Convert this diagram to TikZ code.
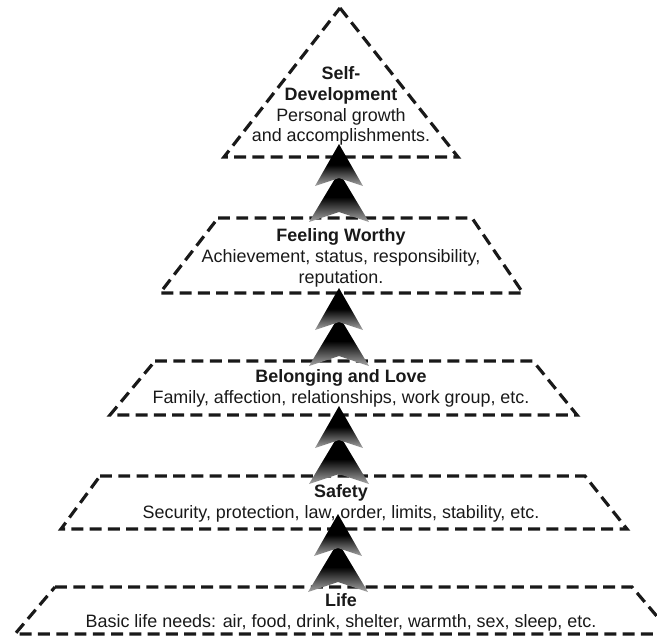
\documentclass[tikz,border=0pt]{standalone}
\usepackage{fontspec}
\setmainfont{Liberation Sans}

\tikzset{
  level/.style={draw=black!90, line width=1.8pt, dash pattern=on 6.8pt off 3.6pt, line join=miter},
  lvltext/.style={align=center, text=black!90, font=\fontsize{10.2}{11.8}\selectfont},
  chev/.style={top color=black, bottom color=black!35, middle color=black}
}

\begin{document}
\begin{tikzpicture}[x=0.02cm, y=-0.02cm]
	\useasboundingbox (0,0) rectangle (657,637);
	\clip (0,0) rectangle (657,637);
	% levels of the pyramid
	\draw[level] (340,8) -- (458,157) -- (224,157) -- cycle;
	\draw[level] (218,218) -- (472,218) -- (523,293) -- (160,293) -- cycle;
	\draw[level] (155,361) -- (533,361) -- (577,415) -- (110,415) -- cycle;
	\draw[level] (100,476) -- (585,476) -- (627,529) -- (61,529) -- cycle;
	\draw[level] (55,587) -- (632,587) -- (672,634) -- (15,634) -- cycle;
	% texts
	\node[lvltext] (self) at (341,106) {\textbf{Self-}\\\textbf{Development}\\Personal growth\\and accomplishments.};
	\node[lvltext] (worthy) at (341,258) {\textbf{Feeling Worthy}\\Achievement, status, responsibility,\\reputation.};
	\node[lvltext] (love) at (341,388) {\textbf{Belonging and Love}\\Family, affection, relationships, work group, etc.};
	\node[lvltext] (safety) at (341,503) {\textbf{Safety}\\Security, protection, law, order, limits, stability, etc.};
	\node[lvltext] (life) at (341,612) {\textbf{Life}\\Basic life needs: air, food, drink, shelter, warmth, sex, sleep, etc.};
	% arrows
	\coordinate (a1) at (339,144);
	\coordinate (a2) at (339,288);
	\coordinate (a3) at (339,406);
	\coordinate (a4) at (338,514);
	\foreach \n in {a1,a2,a3,a4}{
		\shade[chev] ([shift={(0,28)}]\n) -- ++(30,50) -- ++(-30,-10) -- ++(-30,10) -- cycle;
		\shade[chev] (\n) -- ++(24,42) -- ++(-24,-8) -- ++(-24,8) -- cycle;
	}
\end{tikzpicture}
\end{document}
